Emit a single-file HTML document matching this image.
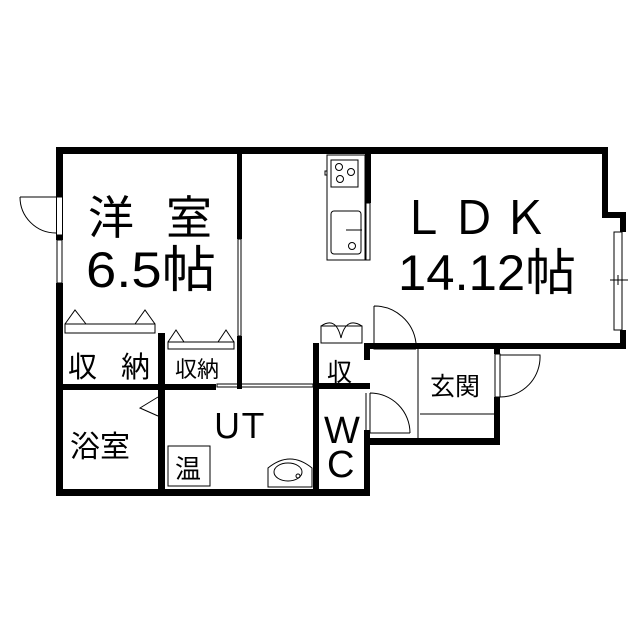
<!DOCTYPE html>
<html><head><meta charset="utf-8"><style>
html,body{margin:0;padding:0;background:#fff;}
svg{display:block}
text{font-family:"Liberation Sans","Noto Sans CJK JP",sans-serif;fill:#000;}
</style></head><body>
<svg width="640" height="640" viewBox="0 0 640 640" xmlns="http://www.w3.org/2000/svg">
<rect width="640" height="640" fill="#fff"/>
<g fill="#000">
<rect x="56" y="147" width="552" height="7"/>
<rect x="56" y="147" width="7" height="50"/>
<rect x="56" y="235" width="7" height="5"/>
<rect x="56" y="283" width="7" height="213"/>
<rect x="56" y="489" width="314" height="7"/>
<rect x="602" y="147" width="6" height="70"/>
<rect x="602" y="212" width="24" height="6"/>
<rect x="620" y="212" width="6" height="20"/>
<rect x="620" y="330" width="6" height="19"/>
<rect x="365" y="343" width="261" height="6"/>
<rect x="237" y="147" width="5" height="92"/>
<rect x="237" y="336" width="5" height="53"/>
<rect x="56" y="384" width="160" height="6"/>
<rect x="158" y="333" width="7" height="163"/>
<rect x="313" y="343" width="6" height="153"/>
<rect x="313" y="383" width="57" height="6"/>
<rect x="365" y="147" width="6" height="56"/>
<rect x="364" y="343" width="6" height="17"/>
<rect x="364" y="430" width="6" height="66"/>
<rect x="364" y="438" width="136" height="7"/>
<rect x="494" y="343" width="6" height="11"/>
<rect x="494" y="397" width="6" height="48"/>
<rect x="158" y="390" width="7" height="3"/>
</g>
<g fill="none" stroke="#000" stroke-width="1">
<rect x="57" y="240" width="5" height="43"/>
<rect x="56.5" y="197" width="6" height="38"/>
<path d="M20 197 L56 197 M20 197 A36 36 0 0 0 56 233"/>
<rect x="238" y="239" width="3" height="97"/>
<rect x="327" y="155" width="38" height="105"/>
<rect x="331" y="160" width="27" height="27"/>
<circle cx="339" cy="167" r="3.5"/><circle cx="351" cy="172" r="3.5"/><circle cx="340" cy="179" r="3.5"/>
<rect x="325" y="171" width="2" height="4"/>
<rect x="331" y="211" width="30" height="43" rx="3"/>
<path d="M346 230 H362"/><circle cx="352" cy="246" r="3.5"/>
<rect x="366" y="203" width="4" height="57"/>
<rect x="614" y="232" width="8" height="98"/>
<path d="M610 280 H628 M618 275 V285"/>
<path d="M65 324 H155 V333 H65 Z"/>
<path d="M65 324 L75 310 L86 324 M135 324 L145 310 L155 324"/>
<path d="M168 342 H234 V349 H168 Z"/>
<path d="M168 342 L176 330 L184 342 M218 342 L226 330 L234 342"/>
<rect x="217" y="384" width="96" height="3"/>
<path d="M265 387 H313"/>
<rect x="159" y="393" width="5" height="43"/>
<path d="M158 397 L140 408 L158 416"/>
<rect x="168" y="446" width="42" height="40"/>
<path d="M268 487 V468 Q290 450 312 468 V487 Z"/>
<ellipse cx="288" cy="472" rx="14" ry="9"/>
<circle cx="298" cy="476" r="2"/>
<path d="M321 326 H362 V343 H321 Z"/>
<path d="M321 326 Q336 316 341 338 Q346 316 362 326"/>
<path d="M374 306 V349 H416 M374 306 A42 42 0 0 1 416 343"/>
<path d="M366 393 V430 M370 393 A40 40 0 0 1 410 433 M370 393 V433 H410"/>
<path d="M418 349 V438 M420 414 H494"/>
<rect x="495" y="354" width="5" height="43"/>
<path d="M500 355 H540 A40 40 0 0 1 500 397"/>
</g>
<g>
<text x="88" y="234" font-size="46">洋</text>
<text x="166" y="234" font-size="46">室</text>
<text x="86" y="287" font-size="50" textLength="130" lengthAdjust="spacingAndGlyphs">6.5帖</text>
<text x="400" y="234" font-size="46" textLength="148" lengthAdjust="spacing">ＬＤＫ</text>
<text x="398" y="290" font-size="50" textLength="178" lengthAdjust="spacingAndGlyphs">14.12帖</text>
<text x="68" y="377" font-size="29">収</text>
<text x="121" y="377" font-size="29">納</text>
<text x="175" y="377" font-size="22">収納</text>
<text x="70" y="457" font-size="30">浴室</text>
<text x="210" y="438" font-size="34" textLength="60" lengthAdjust="spacing">ＵＴ</text>
<text x="175" y="478" font-size="26">温</text>
<text x="324" y="443" font-size="38">W</text>
<text x="327" y="477" font-size="38">C</text>
<text x="327" y="381" font-size="25">収</text>
<text x="430" y="395" font-size="25">玄関</text>
</g>
</svg>
</body></html>
